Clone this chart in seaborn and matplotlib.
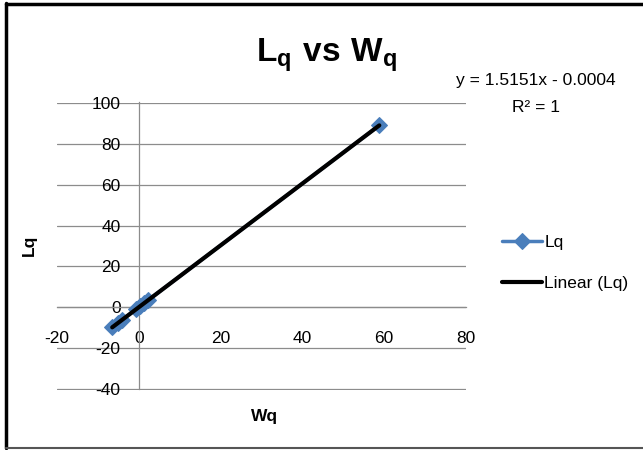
import numpy as np
import pandas as pd
import matplotlib
matplotlib.use("Agg")
import matplotlib.pyplot as plt
import seaborn as sns
from matplotlib.lines import Line2D

# ---- data ----
wq = [-6.5, -5.2, -4.0, -0.6, 0.4, 1.3, 2.2, 58.8]
lq = [-9.85, -7.88, -6.06, -0.91, 0.61, 1.97, 3.33, 89.09]
x_ticks = [-20, 0, 20, 40, 60, 80]
y_ticks = [-40, -20, 0, 20, 40, 60, 80, 100]
series_label = "Lq"
trend_label = "Linear (Lq)"
equation_text = "y = 1.5151x - 0.0004"
r2_text = "R\u00b2 = 1"

df = pd.DataFrame({"Wq": wq, "Lq": lq})

sns.set_style("white")
FONT = ["Liberation Sans", "DejaVu Sans"]
plt.rcParams["font.family"] = FONT
plt.rcParams["text.color"] = "black"
plt.rcParams["axes.labelcolor"] = "black"
plt.rcParams["axes.unicode_minus"] = False
plt.rcParams["mathtext.fontset"] = "custom"
plt.rcParams["mathtext.rm"] = "Liberation Sans"
plt.rcParams["mathtext.bf"] = "Liberation Sans:bold"

W, H = 643, 450
fig = plt.figure(figsize=(W / 100, H / 100), dpi=100)
ax = fig.add_axes([57 / W, 1 - 389.5 / H, 409 / W, 287 / H])

blue = "#4A7EBB"
sns.lineplot(data=df, x="Wq", y="Lq", sort=False, marker="D", markersize=8,
             color=blue, markeredgecolor=blue, linewidth=2.5,
             label=series_label, ax=ax, zorder=3)
sns.regplot(data=df, x="Wq", y="Lq", scatter=False, ci=None, color="black",
            label=trend_label, line_kws={"linewidth": 3, "zorder": 4}, ax=ax)

ax.set_xlim(min(x_ticks), max(x_ticks))
ax.set_ylim(min(y_ticks) - 0.3, max(y_ticks) + 0.3)
ax.set_xticks(x_ticks)
ax.set_yticks(y_ticks)

grid_c = "#8C8C8C"
ax.yaxis.grid(True, color=grid_c, linewidth=0.9)
ax.xaxis.grid(False)
for s in ["top", "right"]:
    ax.spines[s].set_visible(False)
ax.spines["left"].set_position(("data", 0))
ax.spines["bottom"].set_position(("data", 0))
for s in ["left", "bottom"]:
    ax.spines[s].set_color(grid_c)
    ax.spines[s].set_linewidth(0.9)
ax.tick_params(axis="y", length=4, pad=9, colors=grid_c, labelcolor="black", labelsize=12.5)
ax.tick_params(axis="x", length=4, pad=13, colors=grid_c, labelcolor="black", labelsize=12.5)
ax.set_axisbelow(True)

ax.set_xlabel("Wq", fontsize=12.5, fontweight="bold")
ax.set_ylabel("Lq", fontsize=12.5, fontweight="bold")
ax.xaxis.set_label_coords((265 - 57) / 409, (389 - 408) / 287)
ax.yaxis.set_label_coords((37 - 57) / 409, (389 - 245) / 287)

fig.text(327 / W, 1 - 55 / H, r"$\mathbf{L_q\ vs\ W_q}$", fontsize=24,
         ha="center", va="center")
fig.text(536 / W, 1 - 80 / H, equation_text, fontsize=12.5, ha="center", va="center")
fig.text(536 / W, 1 - 108 / H, r2_text, fontsize=12.5, ha="center", va="center")

ax.legend(loc="center left", bbox_to_anchor=(486 / W, 1 - 263 / H),
          bbox_transform=fig.transFigure, frameon=False, fontsize=12.5,
          handlelength=2.3, handletextpad=0.15, labelspacing=1.45)

# outer frame
fig.add_artist(Line2D([6 / W, 1], [1 - 3.5 / H, 1 - 3.5 / H], color="black", linewidth=2.5, transform=fig.transFigure))
fig.add_artist(Line2D([6 / W, 6 / W], [1 - 3 / H, 1 - 448 / H], color="black", linewidth=2.5, transform=fig.transFigure))
fig.add_artist(Line2D([6 / W, 1], [1 - 448 / H, 1 - 448 / H], color="#555555", linewidth=1.5, transform=fig.transFigure))

fig.savefig("out.png", dpi=100)
